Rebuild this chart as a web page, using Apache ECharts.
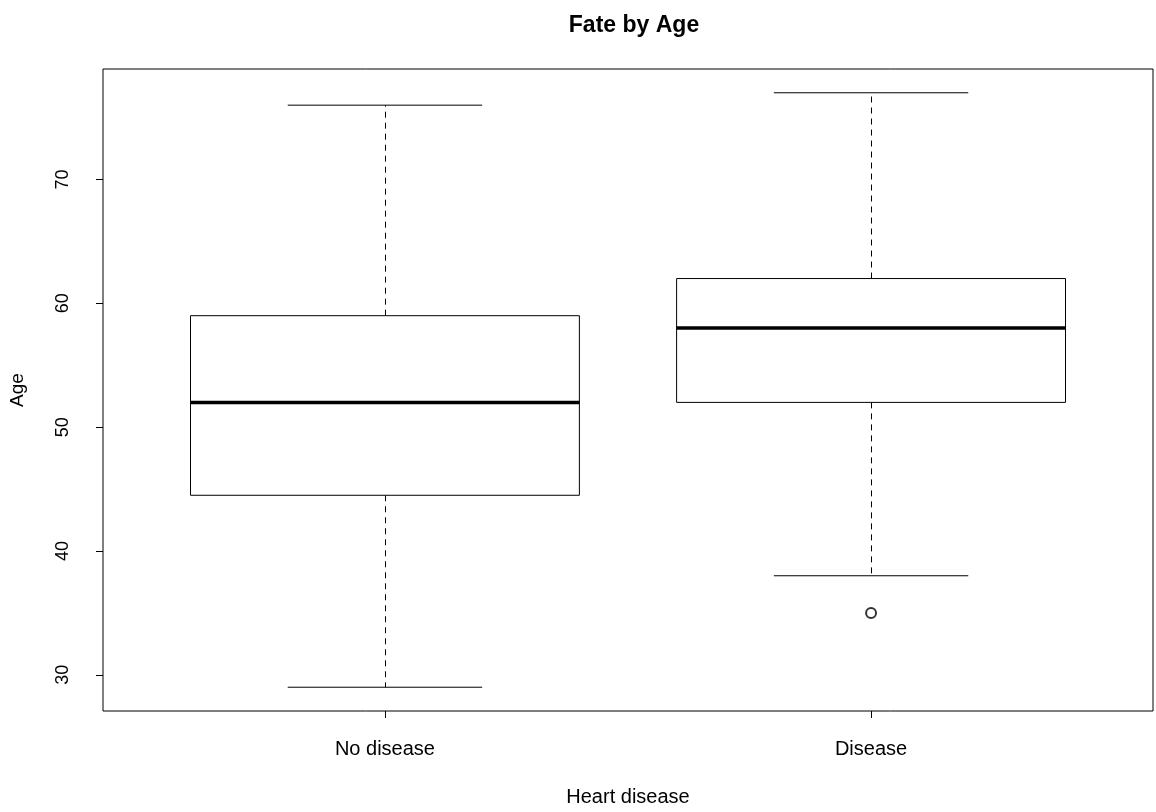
<!DOCTYPE html>
<html>
<head>
<meta charset="utf-8">
<script src="https://cdn.jsdelivr.net/npm/echarts@6/dist/echarts.min.js"></script>
<style>html,body{margin:0;padding:0;background:#fff}#c{width:1156px;height:812px}</style>
</head>
<body>
<div id="c"></div>
<script>
const categories = ['No disease', 'Disease'];
const whiskerLow = [29, 38];
const q1 = [44.5, 52];
const median = [52, 58];
const q3 = [59, 62];
const whiskerHigh = [76, 77];
const outlierCategory = [2];
const outlierValue = [35];
const yTicks = [30, 40, 50, 60, 70];

const FONT = '"Liberation Sans", Arial, Helvetica, sans-serif';
const boxData = categories.map((c, i) => [i + 1, whiskerLow[i], q1[i], median[i], q3[i], whiskerHigh[i]]);
const outlierData = outlierCategory.map((c, i) => [c, outlierValue[i]]);

function renderBox(params, api) {
  const x = api.value(0);
  const lo = api.value(1), a = api.value(2), m = api.value(3), b = api.value(4), hi = api.value(5);
  const hw = 0.4, cw = 0.2;
  const pL = api.coord([x - hw, b]), pR = api.coord([x + hw, a]);
  const c = (v) => api.coord([x, v]);
  const cx = Math.round(c(m)[0]) + 0.5;
  const stroke = { stroke: '#000', lineWidth: 1 };
  const dash = { stroke: '#000', lineWidth: 1, lineDash: [6, 5] };
  const capL = api.coord([x - cw, lo])[0], capR = api.coord([x + cw, lo])[0];
  return {
    type: 'group',
    children: [
      { type: 'line', shape: { x1: cx, y1: c(b)[1], x2: cx, y2: c(hi)[1] }, style: dash },
      { type: 'line', shape: { x1: cx, y1: c(a)[1], x2: cx, y2: c(lo)[1] }, style: dash },
      { type: 'line', shape: { x1: capL, y1: c(hi)[1], x2: capR, y2: c(hi)[1] }, style: stroke },
      { type: 'line', shape: { x1: capL, y1: c(lo)[1], x2: capR, y2: c(lo)[1] }, style: stroke },
      { type: 'rect', shape: { x: pL[0], y: pL[1], width: pR[0] - pL[0], height: pR[1] - pL[1] }, style: { fill: '#fff', stroke: '#000', lineWidth: 1 } },
      { type: 'line', shape: { x1: pL[0], y1: c(m)[1], x2: pR[0], y2: c(m)[1] }, style: { stroke: '#000', lineWidth: 3.5 } }
    ]
  };
}

const chart = echarts.init(document.getElementById('c'), null, { renderer: 'canvas' });
chart.setOption({
  backgroundColor: '#fff',
  animation: false,
  title: {
    text: 'Fate by Age',
    left: 629, top: 9, textAlign: 'center',
    textStyle: { fontFamily: FONT, fontSize: 23, fontWeight: 'bold', color: '#000' }
  },
  grid: { left: 103, right: 3, top: 69, bottom: 101, show: true, borderColor: '#000', borderWidth: 1, backgroundColor: 'transparent', containLabel: false, outerBoundsMode: 'none' },
  xAxis: {
    type: 'value', min: 0.42, max: 2.58,
    name: 'Heart disease', nameLocation: 'middle', nameGap: 76,
    nameTextStyle: { fontFamily: FONT, fontSize: 20, color: '#000' },
    axisLine: { show: false },
    axisTick: { show: true, length: 7, lineStyle: { color: '#000' }, customValues: [1, 2] },
    axisLabel: { fontFamily: FONT, fontSize: 20, color: '#000', margin: 28, customValues: [1, 2], formatter: v => categories[Math.round(v) - 1] },
    splitLine: { show: false }
  },
  yAxis: {
    type: 'value', min: 27.08, max: 78.92,
    name: 'Age', nameLocation: 'middle', nameGap: 76,
    nameTextStyle: { fontFamily: FONT, fontSize: 19, color: '#000' },
    axisLine: { show: false },
    axisTick: { show: true, length: 7, lineStyle: { color: '#000' }, customValues: yTicks },
    axisLabel: { fontFamily: FONT, fontSize: 18, color: '#000', rotate: 90, margin: 31, customValues: yTicks },
    splitLine: { show: false }
  },
  series: [
    {
      type: 'custom', renderItem: renderBox, data: boxData,
      encode: { x: 0, y: [1, 2, 3, 4, 5] }, silent: true, clip: false
    },
    {
      type: 'scatter', data: outlierData, symbol: 'emptyCircle', symbolSize: 10,
      itemStyle: { color: '#000', borderColor: '#000', borderWidth: 1.5 }, silent: true
    }
  ]
});
</script>
</body>
</html>
